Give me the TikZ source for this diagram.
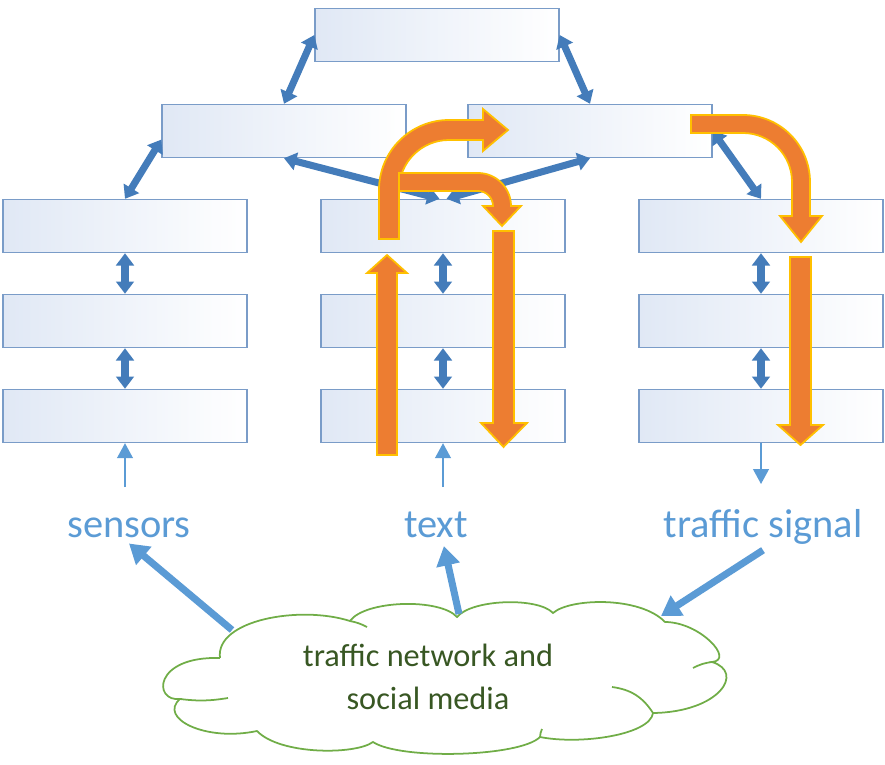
\documentclass[tikz,border=0pt]{standalone}
\usepackage{fontspec}
\setmainfont{Carlito}
\usetikzlibrary{arrows.meta}
\definecolor{boxline}{RGB}{122,156,200}
\definecolor{boxshade}{RGB}{224,232,245}
\definecolor{linkblue}{RGB}{68,124,186}
\definecolor{feedblue}{RGB}{91,155,213}
\definecolor{flowfill}{RGB}{237,125,49}
\definecolor{flowedge}{RGB}{255,192,0}
\definecolor{cloudline}{RGB}{112,173,71}
\definecolor{cloudtext}{RGB}{56,87,35}

\begin{document}
\begin{tikzpicture}[x=0.02cm, y=-0.02cm,
    layer/.style={draw=boxline, line width=0.8pt, minimum width=4.88cm, minimum height=1.06cm,
        inner sep=0pt, left color=boxshade, middle color=white, right color=white},
    link/.style={draw=linkblue, line width=4pt, {Triangle[width=10pt,length=7pt]}-{Triangle[width=10pt,length=7pt]}},
    feed/.style={draw=feedblue, line width=0.9pt, -{Triangle[width=9pt,length=8.5pt]}},
    pull/.style={draw=feedblue, line width=4pt, -{Triangle[width=13pt,length=11pt]}},
    flow/.style={fill=flowfill, draw=flowedge, line width=1pt, line join=miter},
    puff/.style={draw=cloudline, line width=1pt},
    source/.style={text=feedblue, font=\fontsize{23}{28}\selectfont, anchor=base}]
    \useasboundingbox (0,0) rectangle (885,764);

    \node[layer] (top) at (437,35) {};
    \node[layer] (midL) at (284,131) {};
    \node[layer] (midR) at (590,131) {};
    \foreach \col/\x in {L/125, M/443, R/761} {
        \foreach \row/\y in {1/226, 2/321, 3/416} {
            \node[layer] (c\col\row) at (\x,\y) {};
        }
        \draw[link] (c\col1) -- (c\col2);
        \draw[link] (c\col2) -- (c\col3);
    }

    \draw[link] (midL.north) -- (top.west);
    \draw[link] (top.east) -- (midR.north);
    \draw[link] (midL.south) -- ([xshift=-2pt]cM1.north);
    \draw[link] (midR.south) -- ([xshift=2pt]cM1.north);
    \draw[link] (cL1.north) -- (midL.184);
    \draw[link] (midR.east) -- (cR1.north);

    \coordinate (inL) at (125,487);
    \coordinate (inM) at (443,487);
    \coordinate (outR) at (761,484);
    \draw[feed] (inL) -- (cL3.south);
    \draw[feed] (inM) -- (cM3.south);
    \draw[feed] (cR3.south) -- (outR);

    \node[source] (sens) at (129,537) {sensors};
    \node[source] (txt) at (436,537) {text};
    \node[source] (sig) at (763,537) {traffic signal};

    % cloud
    \draw[puff] (220,658) .. controls (215,620) and (300,605) .. (350,621)
        .. controls (365,600) and (440,598) .. (457,617)
        .. controls (472,599) and (538,597) .. (553,613)
        .. controls (570,598) and (640,596) .. (665,622)
        .. controls (700,622) and (735,660) .. (712,662)
        .. controls (745,672) and (720,712) .. (653,713)
        .. controls (650,735) and (580,745) .. (540,737)
        .. controls (520,757) and (400,760) .. (373,742)
        .. controls (355,755) and (280,755) .. (257,731)
        .. controls (205,742) and (158,718) .. (180,699)
        .. controls (153,702) and (153,656) .. (220,658);
    \draw[puff] (180,699) to[bend right=8] (228,698);
    \draw[puff] (350,621) to[bend left=8] (367,627);
    \draw[puff] (612,687) to[bend left=25] (653,713);
    \draw[puff] (693,668) to[bend left=10] (712,662);
    \draw[puff] (540,737) to[bend left=10] (542,729);
    \node[text=cloudtext, align=center, font=\fontsize{18.4}{24.4}\selectfont] (net) at (428,677)
        {traffic network and\\social media};

    \coordinate (netL) at (232,630);
    \coordinate (netM) at (459,614);
    \coordinate (netR) at (661,616);
    \draw[pull] (netL) -- (sens.south);
    \draw[pull] (netM) -- ([xshift=4.5pt,yshift=-1.5pt]txt.south);
    \draw[pull] (sig.south) -- (netR);

    \draw[flow] (377,455) -- (377,273) -- (367,273) -- (387,255) -- (407,273) -- (397,273) -- (397,455) -- cycle;
    \draw[flow] (379,239) -- (379,190) arc[start angle=180, end angle=270, radius=70] -- (483,120) -- (483,109)
        -- (508,130) -- (483,151) -- (483,140) -- (449,140) arc[start angle=270, end angle=180, radius=50] -- (399,239) -- cycle;
    \draw[flow] (399,173) -- (478,173) arc[start angle=270, end angle=360, radius=33] -- (511,206) -- (521,206)
        -- (502,226) -- (483,206) -- (493,206) arc[start angle=0, end angle=-90, radius=15] -- (399,191) -- cycle;
    \draw[flow] (493,231) -- (514,231) -- (514,423) -- (527,423) -- (503.5,447) -- (481,423) -- (493,423) -- cycle;
    \draw[flow] (691,115) -- (743,115) arc[start angle=270, end angle=360, radius=67] -- (810,216) -- (822,216)
        -- (801,242) -- (780,216) -- (792,216) -- (792,182) arc[start angle=0, end angle=-90, radius=49] -- (691,133) -- cycle;
    \draw[flow] (790,257) -- (811,257) -- (811,425) -- (823,425) -- (800.5,445) -- (778,425) -- (790,425) -- cycle;
\end{tikzpicture}
\end{document}
